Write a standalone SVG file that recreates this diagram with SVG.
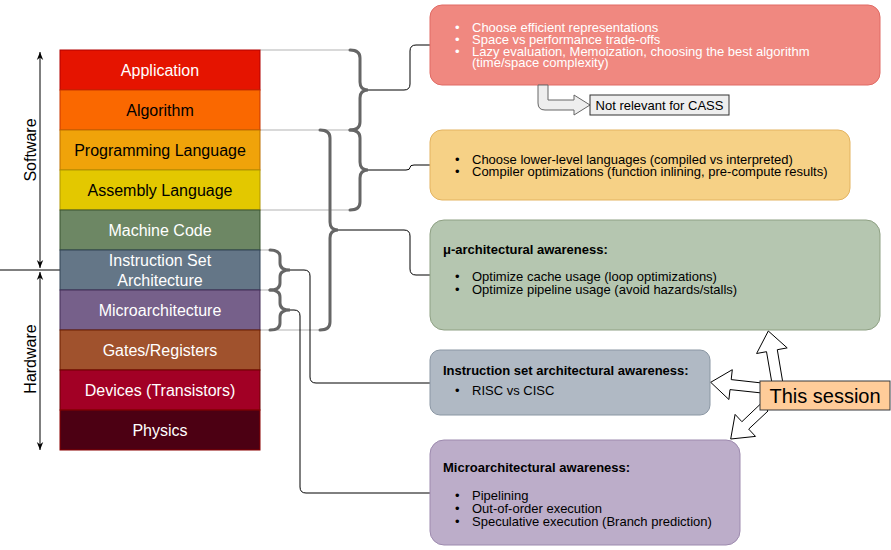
<svg xmlns="http://www.w3.org/2000/svg" width="891" height="550" viewBox="0 0 891 550">
<defs>
<style>
text{font-family:"Liberation Sans",Arial,sans-serif}
.lbl{font-size:16px;text-anchor:middle}
.w{fill:#ffffff}
.k{fill:#000000}
.bt{font-size:13px}
.hd{font-size:13px;font-weight:bold}
.guide{stroke:#b3b3b3;stroke-width:1;fill:none}
.brace{stroke:#666666;stroke-width:3;fill:none;stroke-linecap:round}
.conn{stroke:#000000;stroke-width:1;fill:none}
.barrow{fill:#ffffff;stroke:#000000;stroke-width:1;stroke-linejoin:miter}
</style>
<marker id="ah" viewBox="0 0 10 10" refX="10" refY="5" markerWidth="8" markerHeight="8" orient="auto-start-reverse" markerUnits="userSpaceOnUse">
<path d="M0,1 L10,5 L0,9 L3,5 Z" fill="#000"/>
</marker>
</defs>
<rect width="891" height="550" fill="#ffffff"/>

<g id="axis">
<line x1="40" y1="268" x2="40" y2="52" stroke="#000" stroke-width="1" marker-end="url(#ah)" marker-start="url(#ah)"/>
<line x1="40" y1="272" x2="40" y2="450" stroke="#000" stroke-width="1" marker-end="url(#ah)" marker-start="url(#ah)"/>
<line x1="0" y1="270" x2="60" y2="270" stroke="#000" stroke-width="1"/>
<text class="lbl k" transform="translate(36,150) rotate(-90)">Software</text>
<text class="lbl k" transform="translate(36,359) rotate(-90)">Hardware</text>
</g>

<g id="guides">
<path class="guide" d="M260,50 H350 M260,130 H350 M260,210 H350 M260,250 H270 M260,290 H270 M260,330 H320"/>
</g>

<g id="stack">
<g id="application"><rect x="60" y="50" width="200" height="40" fill="#e51400" stroke="#b20000"/><text class="lbl w" x="160" y="76">Application</text></g>
<g id="algorithm"><rect x="60" y="90" width="200" height="40" fill="#fa6800" stroke="#c73500"/><text class="lbl k" x="160" y="116">Algorithm</text></g>
<g id="programming"><rect x="60" y="130" width="200" height="40" fill="#f0a30a" stroke="#bd7000"/><text class="lbl k" x="160" y="156">Programming Language</text></g>
<g id="assembly"><rect x="60" y="170" width="200" height="40" fill="#e3c800" stroke="#b09500"/><text class="lbl k" x="160" y="196">Assembly Language</text></g>
<g id="machinecode"><rect x="60" y="210" width="200" height="40" fill="#6d8764" stroke="#3a5431"/><text class="lbl w" x="160" y="236">Machine Code</text></g>
<g id="isa"><rect x="60" y="250" width="200" height="40" fill="#647687" stroke="#314354"/><text class="lbl w" x="160" y="266">Instruction Set</text><text class="lbl w" x="160" y="286">Architecture</text></g>
<g id="microarch"><rect x="60" y="290" width="200" height="40" fill="#76608a" stroke="#432d57"/><text class="lbl w" x="160" y="316">Microarchitecture</text></g>
<g id="gates"><rect x="60" y="330" width="200" height="40" fill="#a0522d" stroke="#6d1f00"/><text class="lbl w" x="160" y="356">Gates/Registers</text></g>
<g id="devices"><rect x="60" y="370" width="200" height="40" fill="#a20025" stroke="#6f0000"/><text class="lbl w" x="160" y="396">Devices (Transistors)</text></g>
<g id="physics"><rect x="60" y="410" width="200" height="40" fill="#4c0013" stroke="#8a0000"/><text class="lbl w" x="160" y="436">Physics</text></g>
</g>

<g id="braces">
<path class="brace" d="M350,50 Q360,50 360,58 L360,82 Q360,90 368,90 Q360,90 360,98 L360,122 Q360,130 350,130"/>
<path class="brace" d="M350,130 Q360,130 360,138 L360,162 Q360,170 368,170 Q360,170 360,178 L360,202 Q360,210 350,210"/>
<path class="brace" d="M320,130 Q330,130 330,138 L330,222 Q330,230 338,230 Q330,230 330,238 L330,322 Q330,330 320,330"/>
<path class="brace" d="M270,250 Q280,250 280,257 L280,263 Q280,270 290,270 Q280,270 280,277 L280,283 Q280,290 270,290"/>
<path class="brace" d="M270,290 Q280,290 280,297 L280,303 Q280,310 290,310 Q280,310 280,317 L280,323 Q280,330 270,330"/>
</g>

<g id="connectors">
<path class="conn" d="M368,90 L404,90 Q410,90 410,84 L410,51 Q410,45 416,45 L430,45"/>
<path class="conn" d="M368,170 L406,170 Q410,170 410,167.5 Q410,165 414,165 L430,165"/>
<path class="conn" d="M338,230 L404,230 Q410,230 410,236 L410,269 Q410,275 416,275 L430,275"/>
<path class="conn" d="M290,270 L304,270 Q310,270 310,276 L310,377 Q310,383 316,383 L430,383"/>
<path class="conn" d="M290,310 L294,310 Q300,310 300,316 L300,487 Q300,493 306,493 L430,493"/>
</g>

<g id="box-algorithms">
<rect x="430" y="5" width="450" height="80" rx="12" fill="#f08880" stroke="#e06a64"/>
<g class="bt w">
<text x="455" y="32">•</text><text x="472" y="32">Choose efficient representations</text>
<text x="455" y="44">•</text><text x="472" y="44">Space vs performance trade-offs</text>
<text x="455" y="56">•</text><text x="472" y="56">Lazy evaluation, Memoization, choosing the best algorithm</text>
<text x="472" y="67">(time/space complexity)</text>
</g>
</g>

<g id="not-relevant">
<path d="M538,85 L548,85 L548,100 L574,100 L574,95 L590,105 L574,115 L574,110 L545,110 Q538,110 538,103 Z" fill="#eeeeee" stroke="#666666"/>
<rect x="590" y="95" width="139" height="20" fill="#eeeeee" stroke="#333333"/>
<text class="bt k" x="659.5" y="110" text-anchor="middle">Not relevant for CASS</text>
</g>

<g id="box-languages">
<rect x="430" y="130" width="420" height="70" rx="12" fill="#f6d186" stroke="#e3b360"/>
<g class="bt k">
<text x="455" y="164">•</text><text x="472" y="164">Choose lower-level languages (compiled vs interpreted)</text>
<text x="455" y="176">•</text><text x="472" y="176">Compiler optimizations (function inlining, pre-compute results)</text>
</g>
</g>

<g id="box-uarch">
<rect x="430" y="220" width="450" height="110" rx="14" fill="#b5c6b0" stroke="#8ea083"/>
<text class="hd k" x="443" y="254">μ-architectural awareness:</text>
<g class="bt k">
<text x="455" y="281">•</text><text x="472" y="281">Optimize cache usage (loop optimizations)</text>
<text x="455" y="294">•</text><text x="472" y="294">Optimize pipeline usage (avoid hazards/stalls)</text>
</g>
</g>

<g id="box-isa">
<rect x="430" y="350" width="280" height="65" rx="10" fill="#b0b9c4" stroke="#8a96a3"/>
<text class="hd k" x="443" y="375">Instruction set architectural awareness:</text>
<g class="bt k">
<text x="455" y="395">•</text><text x="472" y="395">RISC vs CISC</text>
</g>
</g>

<g id="box-micro">
<rect x="430" y="440" width="310" height="105" rx="14" fill="#bcadc9" stroke="#9d8aae"/>
<text class="hd k" x="443" y="472">Microarchitectural awareness:</text>
<g class="bt k">
<text x="455" y="500">•</text><text x="472" y="500">Pipelining</text>
<text x="455" y="513">•</text><text x="472" y="513">Out-of-order execution</text>
<text x="455" y="526">•</text><text x="472" y="526">Speculative execution (Branch prediction)</text>
</g>
</g>

<g id="session-arrows">
<polygon class="barrow" points="772.1,384 766.5,351.7 756.6,353.5 768.3,331 787.2,347.9 777.3,349.7 782.9,383"/>
<polygon class="barrow" points="762,383 731.2,379.6 732.3,369.7 710.7,382.3 728.9,399.5 730,389.6 762,393"/>
<polygon class="barrow" points="761,403.5 741.9,421.7 735.1,414.4 730.7,439 755.5,436.4 748.7,429.1 768,411"/>
</g>

<g id="this-session">
<rect x="760" y="381" width="130" height="29" fill="#ffcc99" stroke="#36393d"/>
<text x="825" y="403" font-size="20" text-anchor="middle" fill="#000">This session</text>
</g>
</svg>
